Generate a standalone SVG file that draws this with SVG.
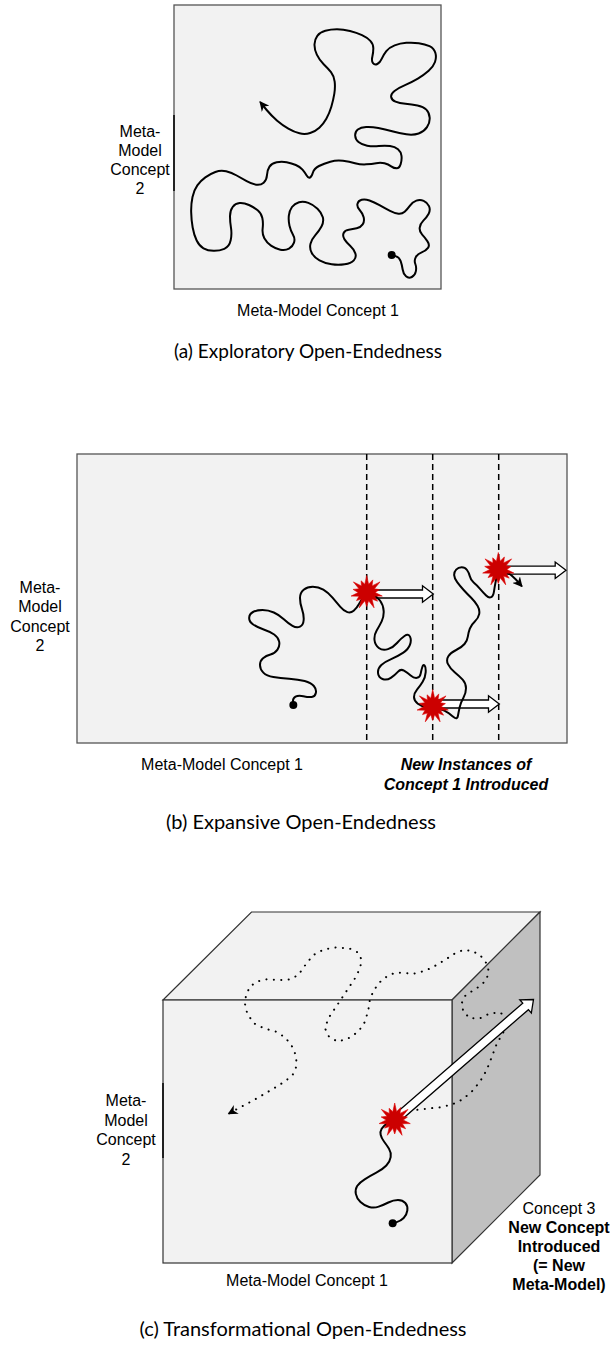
<svg xmlns="http://www.w3.org/2000/svg" xmlns:xlink="http://www.w3.org/1999/xlink" width="614" height="1346" viewBox="0 0 614 1346">
<style>
.box{fill:#f2f2f2;stroke:#555;stroke-width:1.3}
.cube{stroke:#333;stroke-width:1.2}
.lbl{font-family:"Liberation Sans",Arial,sans-serif;font-size:16px;fill:#000;text-anchor:middle}
.b{font-weight:bold}
.bi{font-weight:bold;font-style:italic}
.cap{font-family:Lato,"Open Sans",sans-serif;font-size:19px;fill:#000;text-anchor:middle}
.cap2{font-size:20px}
.curve{fill:none;stroke:#000;stroke-width:6;stroke-linejoin:round;stroke-linecap:round}
.dots{fill:none;stroke:#000;stroke-width:6;stroke-linecap:round;stroke-dasharray:0.3 22}
.dash{stroke:#000;stroke-width:1.5;stroke-dasharray:6 4}
.blk{fill:#fff;stroke:#000;stroke-width:1.3;stroke-linejoin:miter}
.burst{fill:#cc0000;stroke:#e00000;stroke-width:0.6}
.axis{stroke:#000;stroke-width:1.5}
</style>
<defs>
<marker id="ah" viewBox="0 0 10 10" refX="8" refY="5" markerWidth="5" markerHeight="5" orient="auto" markerUnits="strokeWidth"><path d="M0,0 L10,5 L0,10 L3,5 Z" fill="#000"/></marker>
<path id="burst" class="burst" d="M0,-17 L1.9,-8.3 L6.1,-12.6 L5.3,-6.6 L13.3,-10.6 L7.7,-3.7 L12.7,-2.9 L8.5,0 L15.6,3.6 L7.7,3.7 L10.9,8.7 L5.3,6.6 L7.4,15.3 L1.9,8.3 L0,14 L-1.9,8.3 L-7.4,15.3 L-5.3,6.6 L-10.2,8.1 L-7.7,3.7 L-15.6,3.6 L-8.5,0 L-13.6,-3.1 L-7.7,-3.7 L-13.3,-10.6 L-5.3,-6.6 L-5.6,-11.7 L-1.9,-8.3 Z"/>
</defs>

<!-- Panel (a) -->
<g id="panel-a">
<rect class="box" x="174" y="5" width="267" height="284"/>
<line class="axis" x1="174" y1="115" x2="174" y2="191"/>
</g>
<g id="label-a-y"><text class="lbl"><tspan x="140" y="137">Meta-</tspan><tspan x="140" y="156">Model</tspan><tspan x="140" y="175">Concept</tspan><tspan x="140" y="194">2</tspan></text></g>
<g id="label-a-x"><text class="lbl" x="318" y="316">Meta-Model Concept 1</text></g>
<g id="caption-a"><text class="cap" x="308" y="358">(a) Exploratory Open-Endedness</text></g>

<!-- Panel (b) -->
<g id="panel-b">
<rect class="box" x="77" y="454" width="490" height="289"/>
</g>
<g id="dividers-b">
<line class="dash" x1="366.7" y1="454" x2="366.7" y2="743"/>
<line class="dash" x1="432.7" y1="454" x2="432.7" y2="743"/>
<line class="dash" x1="498.7" y1="454" x2="498.7" y2="743"/>
</g>
<g id="label-b-y"><text class="lbl"><tspan x="40" y="593">Meta-</tspan><tspan x="40" y="612">Model</tspan><tspan x="40" y="632">Concept</tspan><tspan x="40" y="651">2</tspan></text></g>
<g id="label-b-x"><text class="lbl" x="222" y="770">Meta-Model Concept 1</text></g>
<g id="label-b-new"><text class="lbl bi"><tspan x="466" y="770">New Instances of</tspan><tspan x="466" y="790">Concept 1 Introduced</tspan></text></g>
<g id="caption-b"><text class="cap cap2" x="301" y="829">(b) Expansive Open-Endedness</text></g>

<!-- Panel (c) cube -->
<g id="cube-c">
<polygon class="cube" fill="#f2f2f2" points="163,1000 251.5,912 540,912 452,1000"/>
<polygon class="cube" fill="#c0c0c0" points="452,1000 540,912 540,1175 452,1263"/>
<rect class="cube" fill="#f2f2f2" x="163" y="1000" width="289" height="263"/>
<line class="axis" x1="163" y1="1083" x2="163" y2="1158"/>
</g>
<g id="label-c-y"><text class="lbl"><tspan x="126" y="1106">Meta-</tspan><tspan x="126" y="1126">Model</tspan><tspan x="126" y="1145">Concept</tspan><tspan x="126" y="1165">2</tspan></text></g>
<g id="label-c-x"><text class="lbl" x="307" y="1286">Meta-Model Concept 1</text></g>
<g id="label-c-z"><text class="lbl"><tspan x="559" y="1214">Concept 3</tspan><tspan class="b" x="559" y="1233">New Concept</tspan><tspan class="b" x="559" y="1252">Introduced</tspan><tspan class="b" x="559" y="1271">(= New</tspan><tspan class="b" x="559" y="1290">Meta-Model)</tspan></text></g>
<g id="caption-c"><text class="cap cap2" x="303" y="1336">(c) Transformational Open-Endedness</text></g>

<!-- Connectors / trajectories -->
<g id="connectors">
<g id="traj-a" transform="translate(170,0) scale(0.33333)">
<path class="curve" marker-end="url(#ah)" d="M665,765 L676.5,768.5 Q688,772 692,783.5 Q696,795 698,808.5 Q700,822 708,829 Q716,836 725.5,831 Q735,826 737.5,814 Q740,802 736,792 Q732,782 737,772 Q742,762 755,757 Q768,752 774,743.5 Q780,735 772.5,724 Q765,713 756.5,704 Q748,695 749,683.5 Q750,672 760,662 Q770,652 776,641 Q782,630 777,618.5 Q772,607 761,602.5 Q750,598 739,602 Q728,606 720,617 Q712,628 704,635 Q696,642 685.5,641 Q675,640 660,632.5 Q645,625 628.5,615.5 Q612,606 598.5,601.5 Q585,597 575,599.5 Q565,602 562.5,611 Q560,620 569,630 Q578,640 581,652 Q584,664 578,673 Q572,682 560,685 Q548,688 536.5,689 Q525,690 521,699 Q517,708 523.5,718 Q530,728 541,738 Q552,748 556,760 Q560,772 551.5,781 Q543,790 524,793 Q505,796 485,793 Q465,790 448.5,781 Q432,772 425,758.5 Q418,745 421.5,731.5 Q425,718 436,705.5 Q447,693 454.5,679.5 Q462,666 458.5,652 Q455,638 442.5,626 Q430,614 415,608.5 Q400,603 387,606.5 Q374,610 366,621 Q358,632 356.5,647 Q355,662 358.5,677 Q362,692 369,704 Q376,716 372,728 Q368,740 357,746 Q346,752 331,749 Q316,746 303,737 Q290,728 283,715 Q276,702 278,685 Q280,668 277,654 Q274,640 263,631 Q252,622 237,615 Q222,608 209,609 Q196,610 188,621 Q180,632 180,648.5 Q180,665 183,683.5 Q186,702 182,721 Q178,740 163,746.5 Q148,753 130.5,752.5 Q113,752 100.5,745 Q88,738 80,721.5 Q72,705 68,682.5 Q64,660 63.5,636 Q63,612 67.5,591 Q72,570 82,556 Q92,542 106,532 Q120,522 136,516 Q152,510 168.5,514 Q185,518 200,526.5 Q215,535 230,543.5 Q245,552 258.5,554 Q272,556 281,548 Q290,540 291,525 Q292,510 298.5,500 Q305,490 320,487 Q335,484 350,487 Q365,490 377.5,495 Q390,500 397.5,509 Q405,518 410,526.5 Q415,535 420,532.5 Q425,530 428.5,518 Q432,506 447,498 Q462,490 481,485 Q500,480 519,482.5 Q538,485 555,489.5 Q572,494 588.5,493 Q605,492 618.5,489.5 Q632,487 643.5,490 Q655,493 663.5,499 Q672,505 680,505 Q688,505 692,492.5 Q696,480 694.5,467.5 Q693,455 684,447.5 Q675,440 660,438 Q645,436 626.5,438 Q608,440 591.5,437 Q575,434 565.5,426 Q556,418 555.5,406.5 Q555,395 563.5,388.5 Q572,382 588.5,381 Q605,380 625,384 Q645,388 666.5,394 Q688,400 709,403 Q730,406 746,400.5 Q762,395 771,381.5 Q780,368 779,353 Q778,338 769,329 Q760,320 742.5,316.5 Q725,313 706.5,311.5 Q688,310 676.5,305 Q665,300 663.5,291 Q662,282 673.5,273 Q685,264 705,255.5 Q725,247 743.5,236 Q762,225 776,212.5 Q790,200 795,186 Q800,172 796,158.5 Q792,145 778.5,138.5 Q765,132 746.5,129.5 Q728,127 709,128.5 Q690,130 674,136 Q658,142 649,153.5 Q640,165 635,176.5 Q630,188 622,192 Q614,196 609,189.5 Q604,183 607,170.5 Q610,158 610,145 Q610,132 601,122.5 Q592,113 576,105.5 Q560,98 540,93 Q520,88 501,88 Q482,88 466,92.5 Q450,97 442,107.5 Q434,118 433.5,133 Q433,148 440.5,164 Q448,180 461,192.5 Q474,205 483,216.5 Q492,228 494,245 Q496,262 493,281 Q490,300 484,320 Q478,340 469,356 Q460,372 448,383 Q436,394 420.5,399 Q405,404 388.5,400 Q372,396 355,386 Q338,376 321.5,362 Q305,348 290,330 L272,308"/>
<circle cx="665" cy="765" r="12" fill="#000"/>
</g>

<g id="blockarrows-b">
<path class="blk" d="M366.7,590 H422.5 V585.8 L433.3,594 L422.5,602.2 V598 H366.7 Z"/>
<path class="blk" d="M432.7,700 H488.5 V695.8 L499.3,704 L488.5,712.2 V708 H432.7 Z"/>
<path class="blk" d="M498.3,566.2 H555.2 V562 L566,570.2 L555.2,578.4 V574.2 H498.3 Z"/>
</g>

<g id="traj-b" transform="translate(230,450) scale(0.33333)">
<path class="curve" marker-end="url(#ah)" d="M190,765 L189,755 Q188,745 196.5,740 Q205,735 220,738.5 Q235,742 245,741 Q255,740 257.5,729 Q260,718 251.5,708 Q243,698 224,693 Q205,688 177.5,686 Q150,684 130,681 Q110,678 100,668 Q90,658 90,645 Q90,632 99,624.5 Q108,617 121.5,613.5 Q135,610 142.5,599 Q150,588 147.5,575 Q145,562 132.5,553.5 Q120,545 101,538.5 Q82,532 69.5,523.5 Q57,515 57.5,503.5 Q58,492 69,486 Q80,480 97.5,480 Q115,480 131.5,487.5 Q148,495 161.5,507.5 Q175,520 187.5,527.5 Q200,535 210,530 Q220,525 221,510 Q222,495 216,477.5 Q210,460 210,444 Q210,428 221,419 Q232,410 248.5,410 Q265,410 280,419 Q295,428 307.5,443 Q320,458 331,470.5 Q342,483 352,486.5 Q362,490 371,482.5 Q380,475 387.5,461.5 Q395,448 403.5,438 Q412,428 426,433 Q440,438 450,451.5 Q460,465 461,482.5 Q462,500 455,514 Q448,528 440,541.5 Q432,555 433.5,570 Q435,585 446.5,594 Q458,603 474,597.5 Q490,592 501,579 Q512,566 523.5,558 Q535,550 540,560 Q545,570 540,584 Q535,598 520,608 Q505,618 485,626.5 Q465,635 454,645 Q443,655 444,668.5 Q445,682 457.5,687 Q470,692 482.5,683.5 Q495,675 503.5,665.5 Q512,656 522,662 Q532,668 542,676.5 Q552,685 561,683.5 Q570,682 572,671 Q574,660 577,651 Q580,642 584,647 Q588,652 587,667 Q586,682 578,695 Q570,708 561,719 Q552,730 552,741 Q552,752 563.5,761 Q575,770 591.5,771 Q608,772 626.5,776 Q645,780 656.5,790 Q668,800 675,804 Q682,808 684,796.5 Q686,785 689,771.5 Q692,758 700,744 Q708,730 708,715 Q708,700 698,689 Q688,678 674,666.5 Q660,655 654,642.5 Q648,630 655,619 Q662,608 678.5,600 Q695,592 703.5,582 Q712,572 713.5,560 Q715,548 719.5,536 Q724,524 734.5,514.5 Q745,505 747.5,492.5 Q750,480 742.5,467.5 Q735,455 723.5,443.5 Q712,432 701,420 Q690,408 681.5,396.5 Q673,385 672.5,375.5 Q672,366 678.5,359 Q685,352 695,352 Q705,352 711,360 Q717,368 719.5,379 Q722,390 731,397.5 Q740,405 750,416.5 Q760,428 768.5,436.5 Q777,445 783.5,441.5 Q790,438 792,424 Q794,410 797,395 Q800,380 803,371 Q806,362 820.5,365 Q835,368 846.5,378 Q858,388 868,400 L874,407"/>
<circle cx="190" cy="765" r="12" fill="#000"/>
</g>

<g id="traj-c" transform="translate(150,900) scale(0.33333)">
<path class="dots" marker-end="url(#ah)" d="M780,632 L830,626 L870,622 L905,614 L938,598 L965,575 L990,545 L1010,510 L1025,472 L1040,432 L1058,400 L1072,378 L1068,352 L1050,337 L1020,340 L990,355 L960,355 L940,335 L935,310 L945,288 L968,272 L992,257 L1010,238 L1016,212 L1008,188 L990,165 L965,152 L940,150 L915,160 L892,175 L868,190 L842,205 L815,215 L788,222 L760,218 L735,218 L710,230 L690,246 L672,270 L660,296 L655,330 L645,365 L625,395 L595,415 L563,425 L537,410 L525,385 L535,355 L555,325 L575,295 L595,265 L615,235 L630,205 L635,180 L625,158 L600,146 L560,142 L522,148 L490,165 L466,195 L445,225 L420,238 L390,240 L350,238 L320,245 L300,260 L288,285 L285,312 L292,342 L312,370 L342,385 L378,395 L405,412 L425,437 L438,467 L440,497 L430,522 L408,542 L378,561 L346,580 L312,600 L282,616 L252,632 L238,640"/>
<path class="curve" d="M728,970 L740,966.5 Q752,963 761,954 Q770,945 772,931.5 Q774,918 766,909 Q758,900 744,900 Q730,900 715,907.5 Q700,915 686,920 Q672,925 657.5,921 Q643,917 631.5,906 Q620,895 617.5,881.5 Q615,868 621.5,858 Q628,848 644,838 Q660,828 679,818 Q698,808 709,796.5 Q720,785 722,771.5 Q724,758 717,746.5 Q710,735 702,724.5 Q694,714 692,704.5 Q690,695 695,686.5 Q700,678 709,672.5 Q718,667 726.5,661 L735,655"/>
<circle cx="728" cy="970" r="12" fill="#000"/>
</g>
<path id="blockarrow-c" class="blk" transform="translate(394.7,1120) rotate(-40.96)" d="M0,-4.3 H173.3 V-8.8 L183.8,0 L173.3,8.8 V4.3 H0 Z"/>
</g>

<!-- Bursts -->
<g id="bursts">
<use xlink:href="#burst" href="#burst" x="366.7" y="592.5"/>
<use xlink:href="#burst" href="#burst" x="432.7" y="706.5"/>
<use xlink:href="#burst" href="#burst" x="498.3" y="569.5"/>
<use xlink:href="#burst" href="#burst" x="394.7" y="1120"/>
</g>
</svg>
